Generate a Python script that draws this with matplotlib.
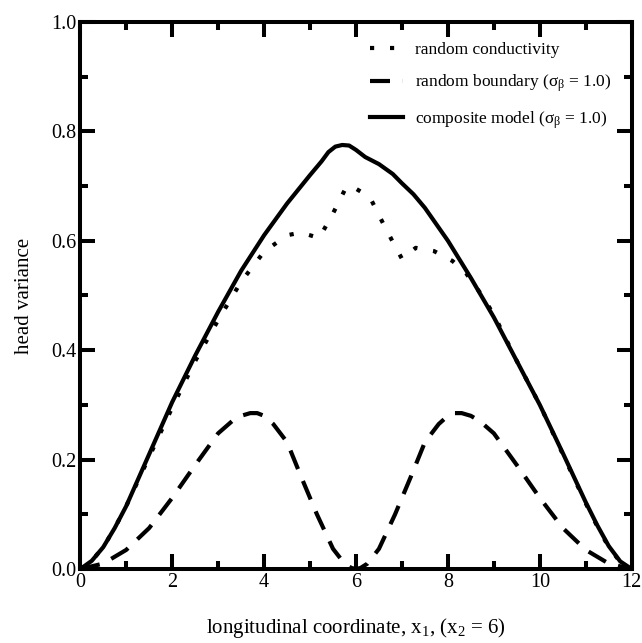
import matplotlib
matplotlib.use("Agg")
import matplotlib.pyplot as plt
from matplotlib.ticker import MultipleLocator

plt.rcParams['font.family'] = ['Liberation Serif', 'DejaVu Serif']
plt.rcParams['mathtext.fontset'] = 'custom'
plt.rcParams['mathtext.rm'] = 'Liberation Serif'
plt.rcParams['mathtext.it'] = 'Liberation Serif'

# composite model (solid)
x_comp = [0, 0.25, 0.5, 0.75, 1, 1.5, 2, 2.5, 3, 3.5, 4, 4.5, 5, 5.25, 5.4,
          5.55, 5.7, 5.85, 6.0, 6.2, 6.5, 6.8, 7, 7.25, 7.5, 8, 8.5, 9, 9.5,
          10, 10.5, 11, 11.25, 11.5, 11.75, 12]
y_comp = [0, 0.015, 0.04, 0.075, 0.115, 0.21, 0.305, 0.39, 0.47, 0.545, 0.61,
          0.668, 0.72, 0.745, 0.762, 0.772, 0.775, 0.774, 0.766, 0.753, 0.74,
          0.722, 0.705, 0.685, 0.66, 0.60, 0.532, 0.46, 0.38, 0.30, 0.212,
          0.122, 0.08, 0.042, 0.014, 0]

# random conductivity (dotted)
x_cond = [0, 0.25, 0.5, 0.75, 1, 1.5, 2, 2.5, 3, 3.5, 4, 4.5, 4.8, 5.2, 5.5,
          5.8, 6.0, 6.3, 6.6, 6.8, 7.0, 7.3, 7.7, 8.1, 8.4, 8.7, 9.0, 9.5, 10,
          10.5, 11, 11.25, 11.5, 11.75, 12]
y_cond = [0, 0.015, 0.04, 0.075, 0.115, 0.205, 0.295, 0.38, 0.455, 0.525,
          0.58, 0.61, 0.615, 0.605, 0.65, 0.70, 0.695, 0.68, 0.63, 0.598,
          0.567, 0.587, 0.581, 0.563, 0.54, 0.505, 0.465, 0.38, 0.30, 0.21,
          0.12, 0.078, 0.04, 0.013, 0]

# random boundary (dashed)
x_bnd = [0, 0.5, 1, 1.5, 2, 2.5, 3, 3.3, 3.5, 3.7, 3.85, 4.0, 4.2, 4.5, 4.8,
         5.15, 5.5, 5.75, 5.9, 6.0, 6.1, 6.25, 6.5, 6.85, 7.2, 7.5, 7.8, 8.0,
         8.15, 8.3, 8.5, 8.7, 9.0, 9.5, 10, 10.5, 11, 11.5, 12]
y_bnd = [0, 0.01, 0.035, 0.075, 0.13, 0.19, 0.248, 0.27, 0.28, 0.285, 0.285,
         0.28, 0.265, 0.232, 0.17, 0.10, 0.037, 0.01, 0.002, 0.0, 0.002,
         0.01, 0.037, 0.10, 0.17, 0.232, 0.265, 0.28, 0.285, 0.285, 0.28,
         0.27, 0.248, 0.19, 0.13, 0.075, 0.035, 0.01, 0]

fig = plt.figure(figsize=(6.42, 6.43), dpi=100)
ax = fig.add_axes([0.125, 0.115, 0.859, 0.851])

lw = 3
ax.plot(x_cond, y_cond, color='black', lw=lw, linestyle=(0, (1, 3.8)),
        dash_capstyle='butt', label='random conductivity')
ax.plot(x_bnd, y_bnd, color='black', lw=lw, linestyle=(0, (4.8, 3.1)),
        dash_capstyle='butt', label=r'random boundary ($\sigma_{\beta}$ = 1.0)')
ax.plot(x_comp, y_comp, color='black', lw=lw, solid_joinstyle='round',
        label=r'composite model ($\sigma_{\beta}$ = 1.0)')

ax.set_xlim(0, 12)
ax.set_ylim(0, 1.0)
ax.xaxis.set_major_locator(MultipleLocator(2))
ax.xaxis.set_minor_locator(MultipleLocator(1))
ax.yaxis.set_major_locator(MultipleLocator(0.2))
ax.yaxis.set_minor_locator(MultipleLocator(0.1))
ax.set_yticklabels([f'{v:.1f}' for v in ax.get_yticks()])

for s in ax.spines.values():
    s.set_linewidth(2.9)
ax.tick_params(which='both', direction='in', top=True, right=True,
               labelsize=14.5, width=2.9, pad=3)
ax.tick_params(which='major', length=10.8)
ax.tick_params(which='minor', length=5.8)

ax.set_xlabel(r'longitudinal coordinate, x$_1$, (x$_2$ = 6)', fontsize=15,
              labelpad=17)
ax.set_ylabel('head variance', fontsize=15, labelpad=12)

ax.legend(loc='upper right', frameon=False, fontsize=12.5, handlelength=1.9,
          labelspacing=0.85, handletextpad=0.7, borderaxespad=0.75)

plt.savefig('out.png', dpi=100)
